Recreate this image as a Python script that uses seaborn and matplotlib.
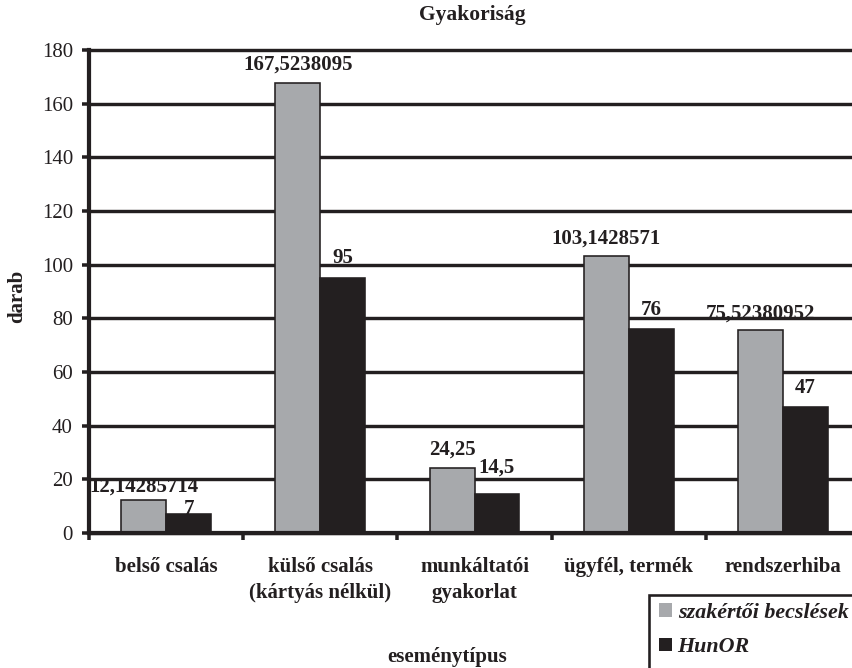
import numpy as np
import pandas as pd
import matplotlib
matplotlib.use("Agg")
import matplotlib.pyplot as plt
from matplotlib.patches import Rectangle
import seaborn as sns

# Event types (x categories)
categories = [
    "belső csalás",
    "külső csalás\n(kártyás nélkül)",
    "munkáltatói\ngyakorlat",
    "ügyfél, termék",
    "rendszerhiba",
]
series_names = ["szakértői becslések", "HunOR"]
expert_values = [12.14285714, 167.5238095, 24.25, 103.1428571, 75.52380952]
hunor_values = [7, 95, 14.5, 76, 47]
y_ticks = [0, 20, 40, 60, 80, 100, 120, 140, 160, 180]

GRAY = "#a7a9ac"
INK = "#231f20"

sns.set_theme(style="white")
plt.rcParams["font.family"] = ["Liberation Serif", "DejaVu Serif"]
plt.rcParams["text.color"] = INK

df = pd.DataFrame({
    "eseménytípus": categories * 2,
    "darab": expert_values + hunor_values,
    "sorozat": [series_names[0]] * len(categories) + [series_names[1]] * len(categories),
})

DPI = 100
W, H = 853, 668
fig = plt.figure(figsize=(W / DPI, H / DPI), dpi=DPI)
px = 72 / DPI  # points per pixel

# plot area (pixel geometry converted to figure fractions)
left, right, top, bottom = 89, 860, 50, 533
ax = fig.add_axes([left / W, 1 - bottom / H, (right - left) / W, (bottom - top) / H])

sns.barplot(
    data=df, x="eseménytípus", y="darab", hue="sorozat",
    palette=[GRAY, INK], saturation=1, width=0.583, errorbar=None,
    edgecolor=INK, linewidth=1.6 * px, ax=ax,
)

ax.set_xlim(-0.5, len(categories) - 0.5)
ax.set_ylim(0, 180)
ax.set_yticks(y_ticks)

# horizontal grid
ax.yaxis.grid(True, color=INK, linewidth=3.4 * px)
ax.set_axisbelow(True)
for gl in ax.get_ygridlines():
    gl.set_clip_on(False)

for side in ("top", "right"):
    ax.spines[side].set_visible(False)
for side in ("left", "bottom"):
    ax.spines[side].set_color(INK)
    ax.spines[side].set_linewidth(4.2 * px)

# y ticks
ax.tick_params(axis="y", which="major", direction="out", length=7 * px, width=3.5 * px,
               color=INK, pad=9 * px, labelsize=15, labelcolor=INK, left=True)
# x: labels at category centres, tick marks at category boundaries
ax.tick_params(axis="x", which="major", length=0, pad=17, labelsize=15, labelcolor=INK)
ax.set_xticks(np.arange(-0.5, len(categories), 1.0), minor=True)
ax.tick_params(axis="x", which="minor", direction="out", length=7 * px, width=3.5 * px,
               color=INK, bottom=True)
for lab in ax.get_xticklabels():
    lab.set_fontweight("bold")
    lab.set_linespacing(1.45)

ax.set_xlabel("")
ax.set_ylabel("")

# value labels above bars (offsets in pixels above the bar top)
label_offsets = [[9, 14, 13, 13, 12], [0, 15, 21, 14, 14]]
for cont, offs in zip(ax.containers, label_offsets):
    for bar, off in zip(cont.patches, offs):
        h = bar.get_height()
        txt = f"{h:.10g}".replace(".", ",")
        ax.annotate(txt, xy=(bar.get_x() + bar.get_width() / 2, h),
                    xytext=(0, off * px), textcoords="offset points",
                    ha="center", va="baseline", fontsize=15, fontweight="bold",
                    color=INK, annotation_clip=False)

# titles
fig.text(472 / W, 1 - 15 / H, "Gyakoriság", ha="center", va="center",
         fontsize=15.5, fontweight="bold", color=INK)
fig.text(17 / W, 1 - 296 / H, "darab", ha="center", va="center", rotation=90,
         fontsize=15, fontweight="bold", color=INK)
fig.text(447 / W, 1 - 657 / H, "eseménytípus", ha="center", va="center",
         fontsize=15, fontweight="bold", color=INK)

# legend
handles, labels = ax.get_legend_handles_labels()
for hnd in handles:
    hnd.set_edgecolor("none")
ax.legend(handles, labels, loc="upper left", bbox_to_anchor=(659 / W, 1 - 603 / H),
          bbox_transform=fig.transFigure, frameon=False, borderpad=0, borderaxespad=0,
          handlelength=0.6, handleheight=0.6, handletextpad=0.25, labelspacing=0.65,
          prop={"family": "Liberation Serif", "weight": "bold", "style": "italic", "size": 15.8})
fig.patches.append(Rectangle((649 / W, -0.1), 1.0, (668 - 595) / H + 0.1,
                             transform=fig.transFigure, fill=False,
                             edgecolor=INK, linewidth=2.6 * px))

fig.savefig("out.png", dpi=DPI)
